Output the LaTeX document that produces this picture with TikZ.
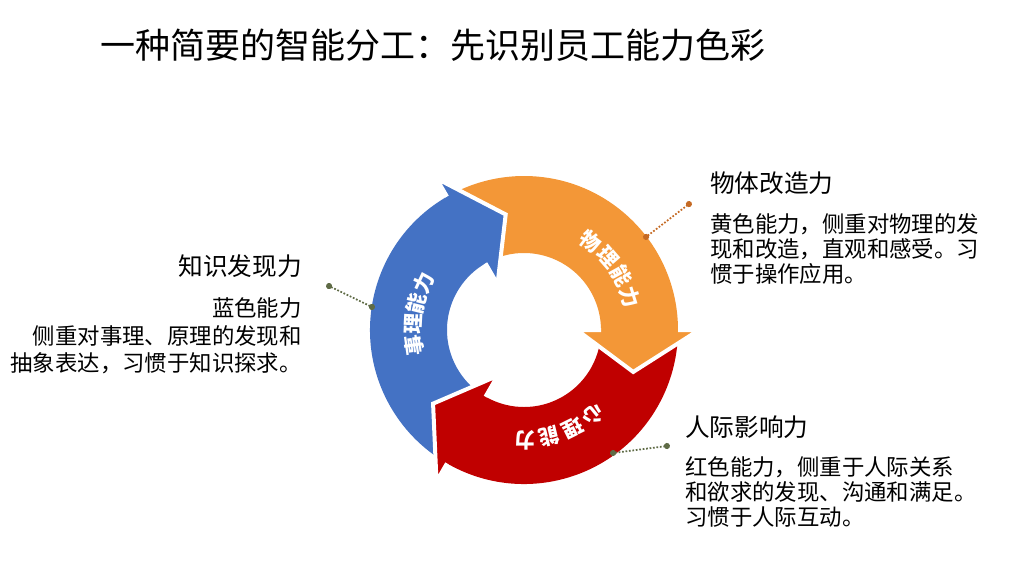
\documentclass[tikz,border=0pt]{standalone}
\usepackage{fontspec}
\newfontfamily\cjk{Noto Sans CJK SC}
\usepackage{tikz}
\usetikzlibrary{arrows.meta}
\usepackage{xcolor}
\definecolor{orangearc}{RGB}{243,151,55}
\definecolor{bluearc}{RGB}{68,114,196}
\definecolor{redarc}{RGB}{192,0,0}
\definecolor{leadorange}{RGB}{197,106,36}
\definecolor{leadolive}{RGB}{95,107,70}

\begin{document}
\begin{tikzpicture}[x=0.75pt, y=0.75pt,
  title/.style={font=\cjk\fontsize{26.25}{30}\selectfont, inner sep=0pt},
  heading/.style={font=\cjk\fontsize{18.5}{22}\selectfont, inner sep=0pt},
  body/.style={font=\cjk\fontsize{16.8}{18.75}\selectfont, inner sep=0pt},
  ringlabel/.style={font=\cjk\bfseries\fontsize{15.5}{16}\selectfont, text=white, inner sep=0pt},
  leader/.style={line width=1.3pt, dash pattern=on 1.3pt off 1.3pt, {Circle[length=4.5pt]}-{Circle[length=4.5pt]}, shorten <=-2.2pt, shorten >=-2.2pt},
  gap/.style={draw=white, line width=3pt, line join=miter}
]
  \useasboundingbox (0,0) rectangle (1015,-569);

  \node[title, anchor=base west] (title) at (100,-58) {一种简要的智能分工：先识别员工能力色彩};

  % three arrows of the cycle
  \begin{scope}[shift={(524,-330)}]
    \foreach \a/\col in {0/orangearc, 120/bluearc, 240/redarc}
      \fill[\col] (\a:154) arc[start angle=\a, end angle=\a+117, radius=154]
        -- (\a+117:77) arc[start angle=\a+117, end angle=\a, radius=77] -- cycle;
    \foreach \a/\col in {0/orangearc, 120/bluearc, 240/redarc} {
      \fill[\col] (\a+1:154) -- (\a:154) -- (\a:175) -- (\a-21:117) -- (\a:53) -- (\a:77) -- (\a+1:77) -- cycle;
      \draw[gap] (\a:154) -- (\a:175) -- (\a-21:117) -- (\a:53) -- (\a:77);
    }

    \foreach \ch [count=\i from 0] in {物,理,能,力}
      \node[ringlabel, rotate=53-12*\i-90] (phys\i) at ({53-12*\i}:111) {\ch};
    \foreach \ch [count=\i from 0] in {事,理,能,力}
      \node[ringlabel, rotate=188-11*\i-90] (know\i) at ({188-11*\i}:111) {\ch};
    \foreach \ch [count=\i from 0] in {心,理,能,力}
      \node[ringlabel, rotate=-50.5-13*\i-90] (psy\i) at ({-50.5-13*\i}:110) {\ch};
  \end{scope}

  % texts
  \node[heading, anchor=base east] (knowhead) at (302,-275.4) {知识发现力};
  \node[body, anchor=base east, align=right, font=\cjk\fontsize{16.8}{20.6}\selectfont] (knowtext) at (302,-371.8)
    {蓝色能力\\侧重对事理、原理的发现和\\抽象表达，习惯于知识探求。};

  \node[heading, anchor=base west] (physhead) at (710,-192.4) {物体改造力};
  \node[body, anchor=base west, align=left] (phystext) at (710,-282.2)
    {黄色能力，侧重对物理的发\\现和改造，直观和感受。习\\惯于操作应用。};

  \node[heading, anchor=base west] (psyhead) at (685,-436.4) {人际影响力};
  \node[body, anchor=base west, align=left] (psytext) at (685,-525.5)
    {红色能力，侧重于人际关系\\和欲求的发现、沟通和满足。\\习惯于人际互动。};

  % leaders
  \coordinate (physdot) at (646,-237);
  \coordinate (physend) at (689,-204);
  \coordinate (knowdot) at (372,-307);
  \coordinate (knowend) at (329,-286);
  \coordinate (psydot) at (613,-453);
  \coordinate (psyend) at (667,-446);

  \draw[leader, leadorange] (physdot) -- (physend);
  \draw[leader, leadolive] (knowdot) -- (knowend);
  \draw[leader, leadolive] (psydot) -- (psyend);
\end{tikzpicture}
\end{document}
